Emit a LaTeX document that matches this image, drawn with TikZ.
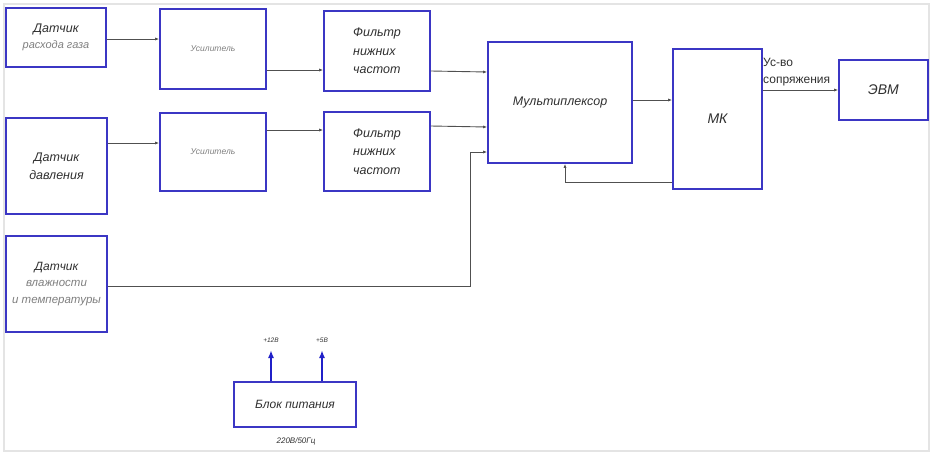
\documentclass[tikz,border=0pt]{standalone}
\usepackage{fontspec}
\setmainfont{Liberation Sans}
\usetikzlibrary{arrows.meta}
\begin{document}
\begin{tikzpicture}[x=1pt,y=-1pt,font=\fontsize{12.5}{15}\selectfont\itshape,
  block/.style={draw=blockblue,line width=1.6pt,fill=white,inner sep=0pt,text=textdark},
  link/.style={draw=linegrey,line width=0.9pt,-{Latex[length=4pt,width=3pt]}},
  feed/.style={draw=powerblue,line width=2pt,-{Latex[length=8pt,width=6pt]}},
  note/.style={inner sep=0pt,text=textdark}]
\definecolor{blockblue}{HTML}{3B36C4}
\definecolor{powerblue}{HTML}{2020C8}
\definecolor{linegrey}{HTML}{505050}
\definecolor{textdark}{HTML}{303030}
\definecolor{textgrey}{HTML}{808080}
\definecolor{framegrey}{HTML}{E4E4E4}
\useasboundingbox (0,0) rectangle (936,458);
\draw[framegrey,line width=1.2pt] (4,4) rectangle (929,451);
% sensors
\node[block,minimum width=100pt,minimum height=59pt,align=center,font=\fontsize{12.5}{16}\selectfont\itshape] (sflow) at (56,37.5)
  {Датчик\\{\fontsize{11}{16}\selectfont\color{textgrey}расхода газа}};
\node[block,minimum width=101pt,minimum height=96pt,align=center,font=\fontsize{12.5}{18}\selectfont\itshape] (spress) at (56.5,166)
  {Датчик\\давления};
\node[block,minimum width=101pt,minimum height=96pt,align=center,font=\fontsize{11.5}{16.5}\selectfont\itshape] (shum) at (56.5,284)
  {{\fontsize{12}{16.5}\selectfont Датчик}\\{\color{textgrey}влажности}\\{\color{textgrey}и температуры}};
% amplifiers and filters
\node[block,minimum width=106pt,minimum height=80pt,font=\fontsize{8.5}{10}\selectfont\itshape,text=textgrey] (amp1) at (213,49) {Усилитель};
\node[block,minimum width=106pt,minimum height=78pt,font=\fontsize{8.5}{10}\selectfont\itshape,text=textgrey] (amp2) at (213,152) {Усилитель};
\node[block,minimum width=106pt,minimum height=80pt,align=left,font=\fontsize{12.5}{18.5}\selectfont\itshape] (filt1) at (377,51)
  {Фильтр\\нижних\\частот};
\node[block,minimum width=106pt,minimum height=79pt,align=left,font=\fontsize{12.5}{18.5}\selectfont\itshape] (filt2) at (377,151.5)
  {Фильтр\\нижних\\частот};
% multiplexer, controller, computer
\node[block,minimum width=144pt,minimum height=121pt,font=\fontsize{12.5}{15}\selectfont\itshape] (mux) at (560,102.5) {Мультиплексор};
\node[block,minimum width=89pt,minimum height=140pt,font=\fontsize{14}{16}\selectfont\itshape] (mcu) at (717.5,119) {МК};
\node[block,minimum width=89pt,minimum height=60pt,font=\fontsize{14}{16}\selectfont\itshape] (pc) at (883.5,90) {ЭВМ};
% power supply
\node[block,minimum width=122pt,minimum height=45pt,font=\fontsize{12}{14}\selectfont\itshape] (psu) at (295,404.5) {Блок питания};
\coordinate (out12) at (271,350);
\coordinate (out5) at (322,350);
\node[note,font=\fontsize{6.5}{8}\selectfont\itshape] (lbl12) at (271,340) {+12В};
\node[note,font=\fontsize{6.5}{8}\selectfont\itshape] (lbl5) at (322,340) {+5В};
\node[note,font=\fontsize{8}{9}\selectfont\itshape] (mains) at (296,441) {220В/50Гц};
\draw[feed] (psu.north -| out12) -- (out12);
\draw[feed] (psu.north -| out5) -- (out5);
% signal paths
\draw[link] (sflow.east |- 0,39) -- (amp1.west |- 0,39);
\draw[link] (amp1.east |- 0,70) -- (filt1.west |- 0,70);
\draw[link] (filt1.east |- 0,71) -- (mux.west |- 0,72);
\draw[link] (spress.east |- 0,143) -- (amp2.west |- 0,143);
\draw[link] (amp2.east |- 0,130) -- (filt2.west |- 0,130);
\draw[link] (filt2.east |- 0,126) -- (mux.west |- 0,127);
\draw[link] (shum.east |- 0,286) -| (470,152) -- (mux.west |- 0,152);
\draw[link] (mux.east |- 0,100) -- (mcu.west |- 0,100);
\draw[link] (mcu.west |- 0,182) -| (mux.south -| 565,0);
\draw[link] (mcu.east |- 0,90) -- (pc.west |- 0,90);
\node[note,anchor=south west,align=left,font=\fontsize{12}{17}\selectfont] (iface) at (763,86) {Ус-во\\сопряжения};
\end{tikzpicture}
\end{document}
